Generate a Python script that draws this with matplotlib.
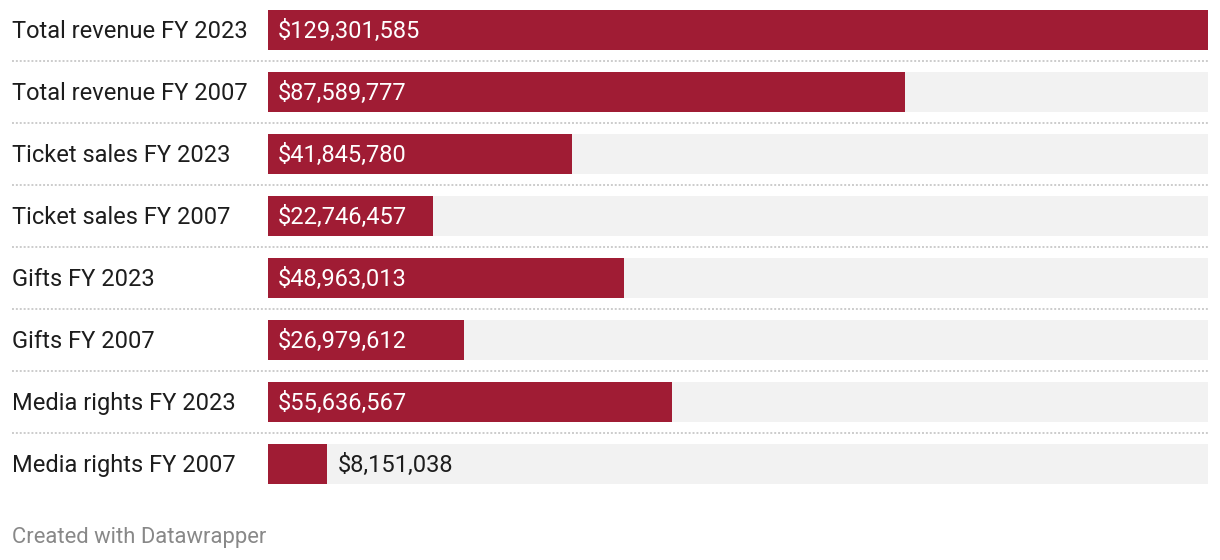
import matplotlib.pyplot as plt
from matplotlib.transforms import blended_transform_factory

plt.rcParams['font.family'] = ['Roboto', 'DejaVu Sans']

labels = ["Total revenue FY 2023", "Total revenue FY 2007",
          "Ticket sales FY 2023", "Ticket sales FY 2007",
          "Gifts FY 2023", "Gifts FY 2007",
          "Media rights FY 2023", "Media rights FY 2007"]
values = [129301585, 87589777, 41845780, 22746457,
          48963013, 26979612, 55636567, 8151038]

BAR = '#a01c34'
BG = '#f2f2f2'

W, H = 1220, 560
fig = plt.figure(figsize=(W / 100, H / 100), dpi=100)
# axes: bars run from x=268px to 1208px, rows pitch 62px
ax = fig.add_axes([268 / W, 1 - 496 / H, 940 / W, 496 / H])
vmax = max(values)
ax.set_xlim(0, vmax)
ax.set_ylim(466 / 62, -30 / 62)
ax.axis('off')

n = len(values)
ys = range(n)
ax.barh(ys, [vmax] * n, height=40 / 62, color=BG, left=0)
ax.barh(ys, values, height=40 / 62, color=BAR)

tr = blended_transform_factory(ax.transAxes, ax.transData)
px = 1 / 940  # one pixel in axes fraction
dy = 1.5 / 62  # nudge text down a touch
for i, (lab, v) in enumerate(zip(labels, values)):
    ax.text(-256 * px, i + dy, lab, transform=tr, ha='left', va='center',
            fontsize=17, color='#1d1d1d', clip_on=False)
    txt = f"${v:,.0f}"
    frac = v / vmax
    if frac > 0.15:
        ax.text(10 * px, i + dy, txt, transform=tr, ha='left', va='center',
                fontsize=17, color='white')
    else:
        ax.text(frac + 10 * px, i + dy, txt, transform=tr, ha='left', va='center',
                fontsize=17, color='#1d1d1d')

for i in range(n - 1):
    ax.plot([-256 * px, 1], [i + 0.5, i + 0.5], transform=tr, color='#cccccc',
            lw=1.4, dashes=(1, 1), clip_on=False)

fig.text(12 / W, 1 - 537 / H, "Created with Datawrapper", ha='left', va='center',
         fontsize=15.8, color='#888888')

fig.savefig('out.png', dpi=100)
